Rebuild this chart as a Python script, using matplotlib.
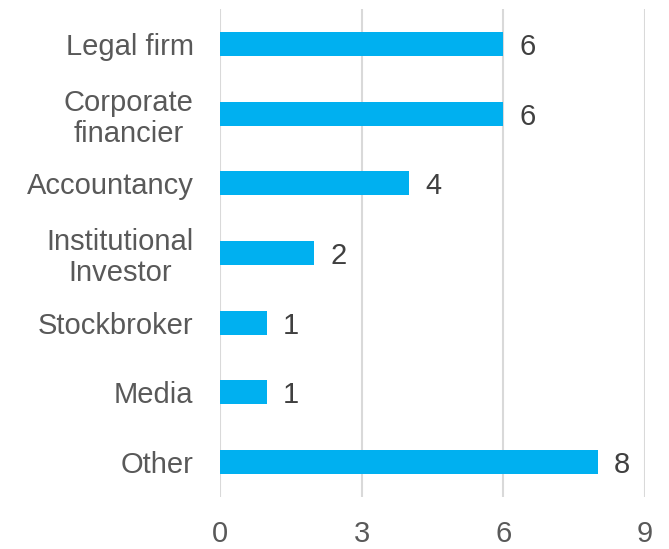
import matplotlib
matplotlib.use("Agg")
import matplotlib.pyplot as plt

categories = ["Legal firm", "Corporate\nfinancier", "Accountancy", "Institutional\nInvestor",
              "Stockbroker", "Media", "Other"]
values = [6, 6, 4, 2, 1, 1, 8]
xticks = [0, 3, 6, 9]

plt.rcParams['font.family'] = ['Liberation Sans', 'DejaVu Sans']

fig = plt.figure(figsize=(6.69, 5.49), dpi=100)
ax = fig.add_axes([220/669, 1-497/549, (645-220)/669, (497-9)/549])

pos = list(range(len(categories)))
ax.barh(pos, values, height=0.345, color="#00B0F0", zorder=3)
ax.set_ylim(len(categories)-0.5, -0.5)
ax.set_xlim(0, 9)
ax.set_xticks(xticks)
ax.set_xticklabels([str(t) for t in xticks])
ax.set_yticks(pos)
ax.set_yticklabels(categories, linespacing=1.15, multialignment='center')
ax.tick_params(axis='both', length=0, labelsize=21, colors="#595959")
ax.tick_params(axis='x', pad=16.5)
ax.tick_params(axis='y', pad=19)
ax.grid(axis='x', color="#D9D9D9", linewidth=1.5, zorder=0)
for s in ax.spines.values():
    s.set_visible(False)

for p, v in zip(pos, values):
    ax.annotate(str(v), (v, p), xytext=(16, 0), textcoords="offset pixels",
                va="center_baseline", ha="left", fontsize=21, color="#404040")

fig.savefig("out.png", dpi=100)
